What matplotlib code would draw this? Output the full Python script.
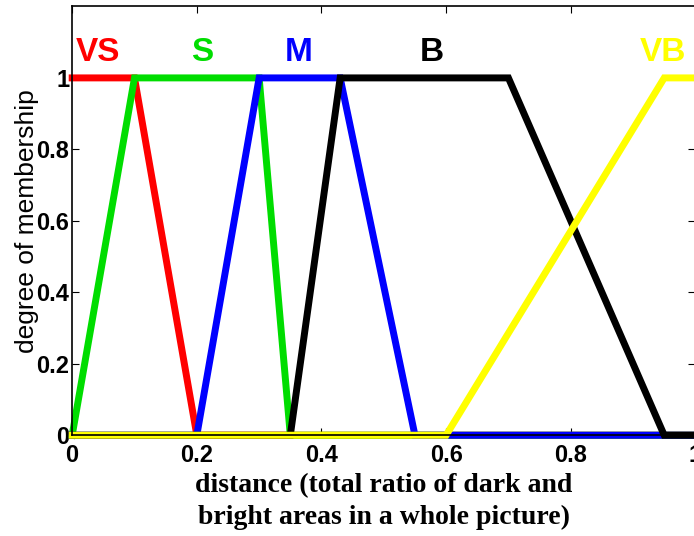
import numpy as np
import matplotlib.pyplot as plt

# membership functions (breakpoints x, degree y)
vs_x = [0, 0.1, 0.2, 1.0]
vs_y = [1, 1, 0, 0]
s_x = [0, 0.1, 0.3, 0.35, 1.0]
s_y = [0, 1, 1, 0, 0]
m_x = [0, 0.2, 0.3, 0.43, 0.55, 1.0]
m_y = [0, 0, 1, 1, 0, 0]
b_x = [0, 0.35, 0.43, 0.7, 0.95, 1.0]
b_y = [0, 0, 1, 1, 0, 0]
vb_x = [0, 0.6, 0.95, 1.0]
vb_y = [0, 0, 1, 1]

names = ['VS', 'S', 'M', 'B', 'VB']
colors = ['#ff0000', '#00dd00', '#0000ff', '#000000', '#ffff00']
label_x = [0.042, 0.208, 0.363, 0.577, 0.948]
label_y = 1.072

fig = plt.figure(figsize=(6.94, 5.36), dpi=100)
ax = fig.add_axes([0.104, 0.188, 0.898, 0.8])

curves = [(vs_x, vs_y), (s_x, s_y), (m_x, m_y), (b_x, b_y), (vb_x, vb_y)]
for (x, y), c in zip(curves, colors):
    ax.plot(x, y, color=c, lw=5, clip_on=False, solid_joinstyle='miter')

for name, lx, c in zip(names, label_x, colors):
    ax.text(lx, label_y, name, color=c, ha='center', va='center',
            fontsize=24, fontweight='bold', family='Liberation Sans')

ax.set_xlim(0, 1)
ax.set_ylim(0, 1.2)
ax.set_xticks([0, 0.2, 0.4, 0.6, 0.8, 1])
ax.set_xticklabels(['0', '0.2', '0.4', '0.6', '0.8', '1'])
ax.set_yticks([0, 0.2, 0.4, 0.6, 0.8, 1])
ax.set_yticklabels(['0', '0.2', '0.4', '0.6', '0.8', '1'])
ax.tick_params(direction='in', length=5, top=True, right=True, labelsize=17)
ax.tick_params(axis='x', pad=6)
ax.tick_params(axis='y', pad=2)
for lab in ax.get_xticklabels() + ax.get_yticklabels():
    lab.set_fontweight('bold')
    lab.set_family('Liberation Sans')
for sp in ax.spines.values():
    sp.set_linewidth(1.2)

ax.set_ylabel('degree of membership', fontsize=19, family='Liberation Sans',
              labelpad=-2)
ax.set_xlabel('distance (total ratio of dark and\nbright areas in a whole picture)',
              fontsize=20, fontweight='bold', family='Liberation Serif',
              linespacing=1.35, labelpad=5)

fig.savefig('out.png', dpi=100)
